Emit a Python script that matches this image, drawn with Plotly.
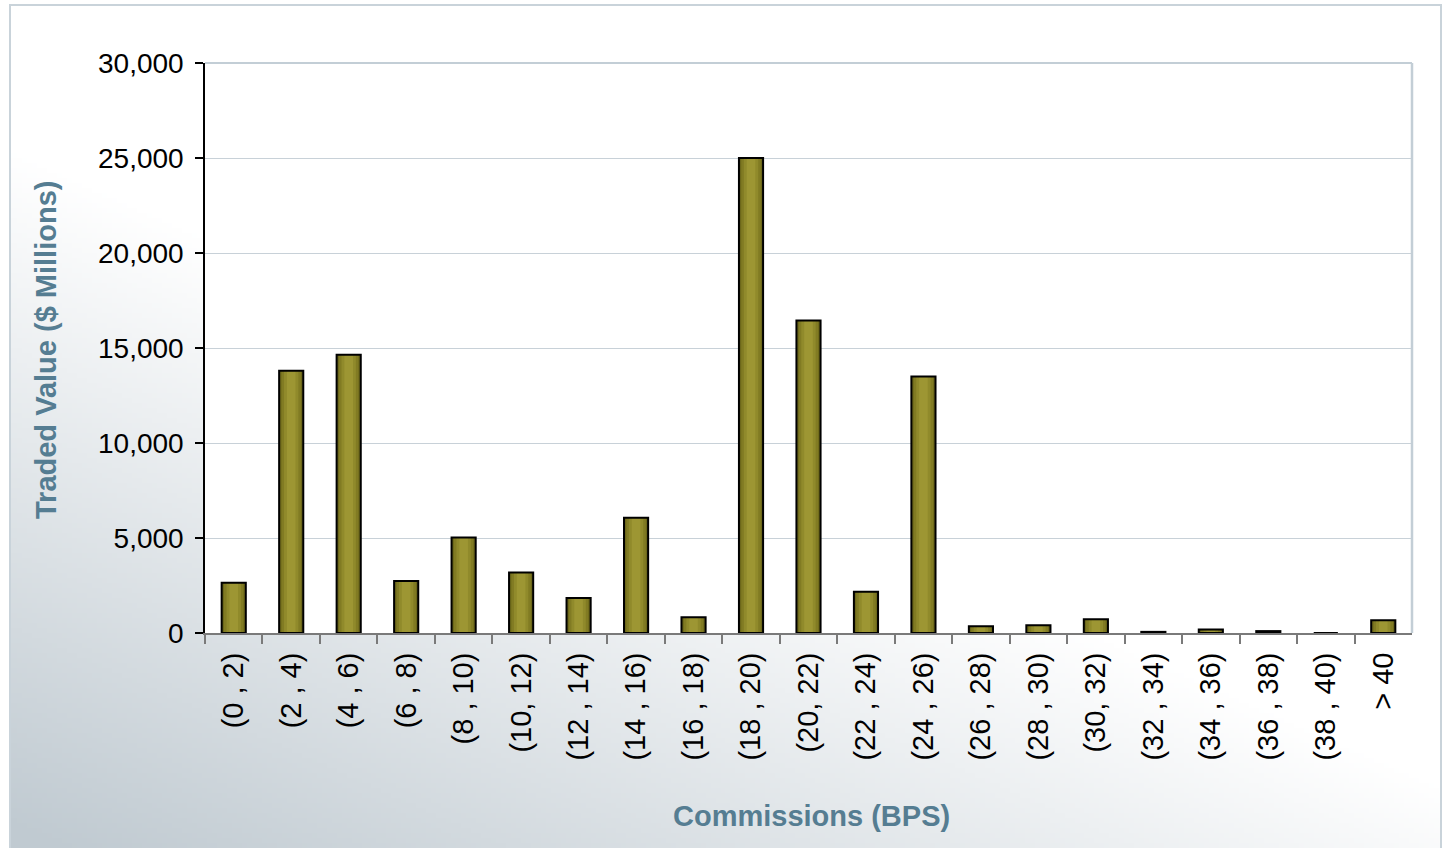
import base64
import struct
import zlib

import numpy as np
import plotly.graph_objects as go

W, H = 1445, 848

# ---------------- data ----------------
categories = [
    "(0 , 2)", "(2 , 4)", "(4 , 6)", "(6 , 8)", "(8 , 10)", "(10, 12)",
    "(12 , 14)", "(14 , 16)", "(16 , 18)", "(18 , 20)", "(20, 22)",
    "(22 , 24)", "(24 , 26)", "(26 , 28)", "(28 , 30)", "(30, 32)",
    "(32 , 34)", "(34 , 36)", "(36 , 38)", "(38 , 40)", "> 40",
]
traded_value = [
    2650, 13800, 14650, 2740, 5020, 3190,
    1840, 6070, 830, 25000, 16450,
    2170, 13500, 360, 410, 720,
    60, 180, 100, 0, 670,
]
y_tick_values = [0, 5000, 10000, 15000, 20000, 25000, 30000]
y_tick_labels = ["0", "5,000", "10,000", "15,000", "20,000", "25,000", "30,000"]

x_title = "Commissions (BPS)"
y_title = "Traded Value ($ Millions)"

# ---------------- background gradient image ----------------
def make_png(rgb):
    h, w, _ = rgb.shape
    raw = b"".join(b"\x00" + rgb[r].tobytes() for r in range(h))

    def chunk(tag, data):
        c = tag + data
        return struct.pack(">I", len(data)) + c + struct.pack(">I", zlib.crc32(c) & 0xFFFFFFFF)

    png = b"\x89PNG\r\n\x1a\n"
    png += chunk(b"IHDR", struct.pack(">IIBBBBB", w, h, 8, 2, 0, 0, 0))
    png += chunk(b"IDAT", zlib.compress(raw, 9))
    png += chunk(b"IEND", b"")
    return png

fx0, fy0, fx1, fy1 = 10, 5, 1441, 850
step = 5
gx = np.arange(fx0, fx1, step, dtype=float)
gy = np.arange(fy0, fy1, step, dtype=float)
XX, YY = np.meshgrid(gx, gy)
f = 0.95 + 0.00148 * (YY - 800) - 0.000657 * (XX - 30)
f = np.clip(f, 0, 1)
dark = np.array([192, 202, 209], dtype=float)
white = np.array([255, 255, 255], dtype=float)
img = (white[None, None, :] * (1 - f[..., None]) + dark[None, None, :] * f[..., None])
img = np.clip(np.round(img), 0, 255).astype(np.uint8)
bg_uri = "data:image/png;base64," + base64.b64encode(make_png(img)).decode("ascii")

# ---------------- figure ----------------
FONT = "Arial, Liberation Sans, sans-serif"
TITLE_COLOR = "#557d92"

fig = go.Figure()

bar_layers = [
    (0.42, "#6c671a"),
    (0.34, "#817b23"),
    (0.25, "#908a2b"),
    (0.15, "#9d9633"),
]
for wdt, col in bar_layers:
    fig.add_trace(go.Bar(
        x=categories, y=traded_value, width=wdt,
        marker=dict(color=col, line=dict(width=0)),
        hoverinfo="skip", showlegend=False,
    ))
fig.add_trace(go.Bar(
    x=categories, y=traded_value, width=0.42,
    marker=dict(color="rgba(0,0,0,0)", line=dict(color="#000000", width=2)),
    showlegend=False, name="Traded Value",
))

plot_x0, plot_x1 = 205, 1412
plot_y0, plot_y1 = 63, 633

fig.update_layout(
    width=W, height=H,
    margin=dict(l=0, r=0, t=0, b=0, pad=0, autoexpand=False),
    paper_bgcolor="#ffffff",
    plot_bgcolor="rgba(0,0,0,0)",
    barmode="overlay",
    font=dict(family=FONT, size=28, color="#000000"),
    xaxis=dict(
        domain=[plot_x0 / W, plot_x1 / W],
        automargin=False,
        type="category",
        categoryorder="array", categoryarray=categories,
        range=[-0.5, len(categories) - 0.5],
        tickson="boundaries",
        ticks="outside", ticklen=9, tickwidth=1.5, tickcolor="#7a7a7a",
        showline=True, linecolor="#7a7a7a", linewidth=2,
        showgrid=False, zeroline=False,
        tickangle=-90,
        tickfont=dict(family=FONT, size=29, color="#000000"),
        ticklabelstandoff=6,
    ),
    yaxis=dict(
        domain=[1 - plot_y1 / H, 1 - plot_y0 / H],
        automargin=False,
        range=[0, 30000],
        tickvals=y_tick_values, ticktext=y_tick_labels,
        ticks="outside", ticklen=8, tickwidth=1.5, tickcolor="#000000",
        showline=True, linecolor="#000000", linewidth=1.5,
        showgrid=True, gridcolor="#c8d1d8", gridwidth=1,
        zeroline=False,
        tickfont=dict(family=FONT, size=28, color="#000000"),
        ticklabelstandoff=6,
    ),
    images=[dict(
        source=bg_uri, xref="paper", yref="paper",
        x=fx0 / W, y=1 - fy0 / H,
        sizex=(fx1 - fx0) / W, sizey=(fy1 - fy0) / H,
        xanchor="left", yanchor="top", sizing="stretch", layer="below",
    )],
    shapes=[
        # outer chart frame
        dict(type="rect", xref="paper", yref="paper",
             x0=fx0 / W, x1=fx1 / W, y0=1 - 860 / H, y1=1 - fy0 / H,
             line=dict(color="#c9d3da", width=2), fillcolor="rgba(0,0,0,0)", layer="below"),
        # white plot area
        dict(type="rect", xref="x domain", yref="y domain", x0=0, x1=1, y0=0, y1=1,
             line=dict(width=0), fillcolor="#ffffff", layer="below"),
        # light top/right plot border
        dict(type="line", xref="x domain", yref="y domain", x0=0, x1=1, y0=1, y1=1,
             line=dict(color="#c3ced6", width=2), layer="above"),
        dict(type="line", xref="x domain", yref="y domain", x0=1, x1=1, y0=0, y1=1,
             line=dict(color="#c3ced6", width=2.5), layer="above"),
    ],
    annotations=[
        dict(text="<b>" + x_title + "</b>", xref="paper", yref="paper",
             x=811 / W, y=1 - 816 / H, xanchor="center", yanchor="middle",
             showarrow=False, font=dict(family=FONT, size=29, color=TITLE_COLOR)),
        dict(text="<b>" + y_title + "</b>", xref="paper", yref="paper",
             x=46 / W, y=1 - 350 / H, xanchor="center", yanchor="middle",
             textangle=-90, showarrow=False,
             font=dict(family=FONT, size=29, color=TITLE_COLOR)),
    ],
)

fig.write_html(
    "out.html",
    config={"displayModeBar": False},
    post_script="document.body.style.margin='0';",
)
